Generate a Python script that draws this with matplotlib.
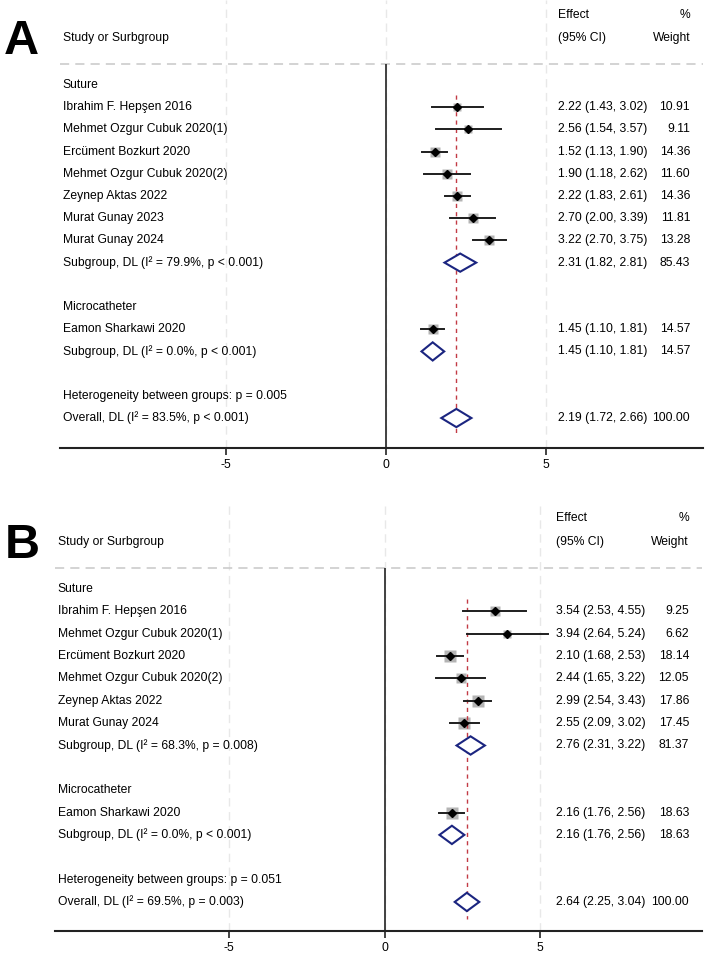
import matplotlib.pyplot as plt
from matplotlib.patches import Polygon

plt.rcParams['font.family'] = ['Liberation Sans', 'DejaVu Sans']
plt.rcParams['axes.unicode_minus'] = False

# Grupos (comuns aos dois painéis)
grupos = ["Suture", "Microcatheter"]

# Painel A
estudos_a = ["Ibrahim F. Hepşen 2016", "Mehmet Ozgur Cubuk 2020(1)", "Ercüment Bozkurt 2020",
             "Mehmet Ozgur Cubuk 2020(2)", "Zeynep Aktas 2022", "Murat Gunay 2023",
             "Murat Gunay 2024", "Eamon Sharkawi 2020"]
n_grupo_a = [7, 1]
efeito_a = [2.22, 2.56, 1.52, 1.90, 2.22, 2.70, 3.22, 1.45]
inf_a = [1.43, 1.54, 1.13, 1.18, 1.83, 2.00, 2.70, 1.10]
sup_a = [3.02, 3.57, 1.90, 2.62, 2.61, 3.39, 3.75, 1.81]
peso_a = [10.91, 9.11, 14.36, 11.60, 14.36, 11.81, 13.28, 14.57]
sub_rot_a = ["Subgroup, DL (I² = 79.9%, p < 0.001)", "Subgroup, DL (I² = 0.0%, p < 0.001)"]
sub_ef_a = [2.31, 1.45]
sub_inf_a = [1.82, 1.10]
sub_sup_a = [2.81, 1.81]
sub_peso_a = [85.43, 14.57]
het_a = "Heterogeneity between groups: p = 0.005"
geral_rot_a = "Overall, DL (I² = 83.5%, p < 0.001)"
geral_a = [2.19, 1.72, 2.66, 100.00]

# Painel B
estudos_b = ["Ibrahim F. Hepşen 2016", "Mehmet Ozgur Cubuk 2020(1)", "Ercüment Bozkurt 2020",
             "Mehmet Ozgur Cubuk 2020(2)", "Zeynep Aktas 2022", "Murat Gunay 2024",
             "Eamon Sharkawi 2020"]
n_grupo_b = [6, 1]
efeito_b = [3.54, 3.94, 2.10, 2.44, 2.99, 2.55, 2.16]
inf_b = [2.53, 2.64, 1.68, 1.65, 2.54, 2.09, 1.76]
sup_b = [4.55, 5.24, 2.53, 3.22, 3.43, 3.02, 2.56]
peso_b = [9.25, 6.62, 18.14, 12.05, 17.86, 17.45, 18.63]
sub_rot_b = ["Subgroup, DL (I² = 68.3%, p = 0.008)", "Subgroup, DL (I² = 0.0%, p < 0.001)"]
sub_ef_b = [2.76, 2.16]
sub_inf_b = [2.31, 1.76]
sub_sup_b = [3.22, 2.56]
sub_peso_b = [81.37, 18.63]
het_b = "Heterogeneity between groups: p = 0.051"
geral_rot_b = "Overall, DL (I² = 69.5%, p = 0.003)"
geral_b = [2.64, 2.25, 3.04, 100.00]

FS = 8.7
AZUL = '#1b2580'
VERMELHO = '#c23b45'


def losango(ax, y, e, l, h):
    pts = [(l, y), (e, y - 0.41), (h, y), (e, y + 0.41)]
    ax.add_patch(Polygon(pts, closed=True, facecolor='white', edgecolor=AZUL, lw=1.5, zorder=4))


def painel(ax, estudos, n_grupo, efeito, inf, sup, peso, sub_rot, sub_ef, sub_inf, sub_sup,
           sub_peso, het, geral_rot, geral, xlim, ylim, k_caixa):
    tr = ax.get_yaxis_transform()
    ax.set_xlim(*xlim)
    ax.set_ylim(*ylim)

    def linha(y, rotulo, txt_ef=None, txt_peso=None):
        ax.text(0.004, y, rotulo, transform=tr, fontsize=FS, va='center', ha='left')
        if txt_ef is not None:
            ax.text(0.774, y, txt_ef, transform=tr, fontsize=FS, va='center', ha='left')
            ax.text(0.980, y, txt_peso, transform=tr, fontsize=FS, va='center', ha='right')

    # cabeçalho
    ax.text(0.004, -2.12, "Study or Surbgroup", transform=tr, fontsize=FS, va='center')
    ax.text(0.774, -3.16, "Effect", transform=tr, fontsize=FS, va='center')
    ax.text(0.774, -2.12, "(95% CI)", transform=tr, fontsize=FS, va='center')
    ax.text(0.980, -3.16, "%", transform=tr, fontsize=FS, va='center', ha='right')
    ax.text(0.980, -2.12, "Weight", transform=tr, fontsize=FS, va='center', ha='right')
    ax.axhline(-0.96, color='#c8c8c8', ls=(0, (6, 4)), lw=1.1, zorder=1)

    for x in [-5, 0, 5]:
        ax.axvline(x, color='#e8e8e8', ls=(0, (6, 4)), lw=1.0, zorder=0)
    ax.vlines(0, -0.96, ylim[0], color='#333333', lw=1.3, zorder=2)

    y = 0
    k = 0
    for g, n in enumerate(n_grupo):
        linha(y, grupos[g])
        y += 1
        for _ in range(n):
            e, l, h, w = efeito[k], inf[k], sup[k], peso[k]
            lado = k_caixa * w ** 0.5 * 0.72
            ax.plot([e], [y], marker='s', ms=lado, color='#b4b4b4', mec='none', zorder=3)
            ax.plot([l, h], [y, y], color='#1e1e1e', lw=1.4, zorder=4)
            ax.plot([e], [y], marker='D', ms=3.8, color='black', zorder=5)
            linha(y, estudos[k], f"{e:.2f} ({l:.2f}, {h:.2f})", f"{w:.2f}")
            y += 1
            k += 1
        losango(ax, y, sub_ef[g], sub_inf[g], sub_sup[g])
        linha(y, sub_rot[g], f"{sub_ef[g]:.2f} ({sub_inf[g]:.2f}, {sub_sup[g]:.2f})", f"{sub_peso[g]:.2f}")
        y += 2
    linha(y, het)
    y += 1
    losango(ax, y, geral[0], geral[1], geral[2])
    linha(y, geral_rot, f"{geral[0]:.2f} ({geral[1]:.2f}, {geral[2]:.2f})", f"{geral[3]:.2f}")
    ax.vlines(geral[0], 0.45, y + 0.75, color=VERMELHO, lw=1.0, linestyles=(0, (3, 3)), zorder=3)

    for s in ['top', 'left', 'right']:
        ax.spines[s].set_visible(False)
    ax.spines['bottom'].set_linewidth(1.5)
    ax.spines['bottom'].set_color('#222222')
    ax.set_yticks([])
    ax.set_xticks([-5, 0, 5])
    ax.set_xticklabels(["-5", "0", "5"])
    ax.tick_params(axis='x', length=5, width=1.2, color='#222222', labelsize=FS, pad=3)
    ax.patch.set_alpha(0)


W, H = 709, 958
fig = plt.figure(figsize=(W / 100, H / 100), dpi=100)

ax_a = fig.add_axes([60 / W, 1 - 448 / H, 643 / W, 448 / H])
painel(ax_a, estudos_a, n_grupo_a, efeito_a, inf_a, sup_a, peso_a, sub_rot_a, sub_ef_a,
       sub_inf_a, sub_sup_a, sub_peso_a, het_a, geral_rot_a, geral_a,
       (-10.2, 9.9), (16.35, -3.83), 2.7)

ax_b = fig.add_axes([55 / W, 1 - 931 / H, 647 / W, 426 / H])
painel(ax_b, estudos_b, n_grupo_b, efeito_b, inf_b, sup_b, peso_b, sub_rot_b, sub_ef_b,
       sub_inf_b, sub_sup_b, sub_peso_b, het_b, geral_rot_b, geral_b,
       (-10.6, 10.2), (15.3, -3.76), 3.0)

fig.text(21 / W, 1 - 41 / H, "A", fontsize=35, fontweight='bold', ha='center', va='center')
fig.text(22 / W, 1 - 545 / H, "B", fontsize=35, fontweight='bold', ha='center', va='center')

fig.savefig("out.png", dpi=100)
